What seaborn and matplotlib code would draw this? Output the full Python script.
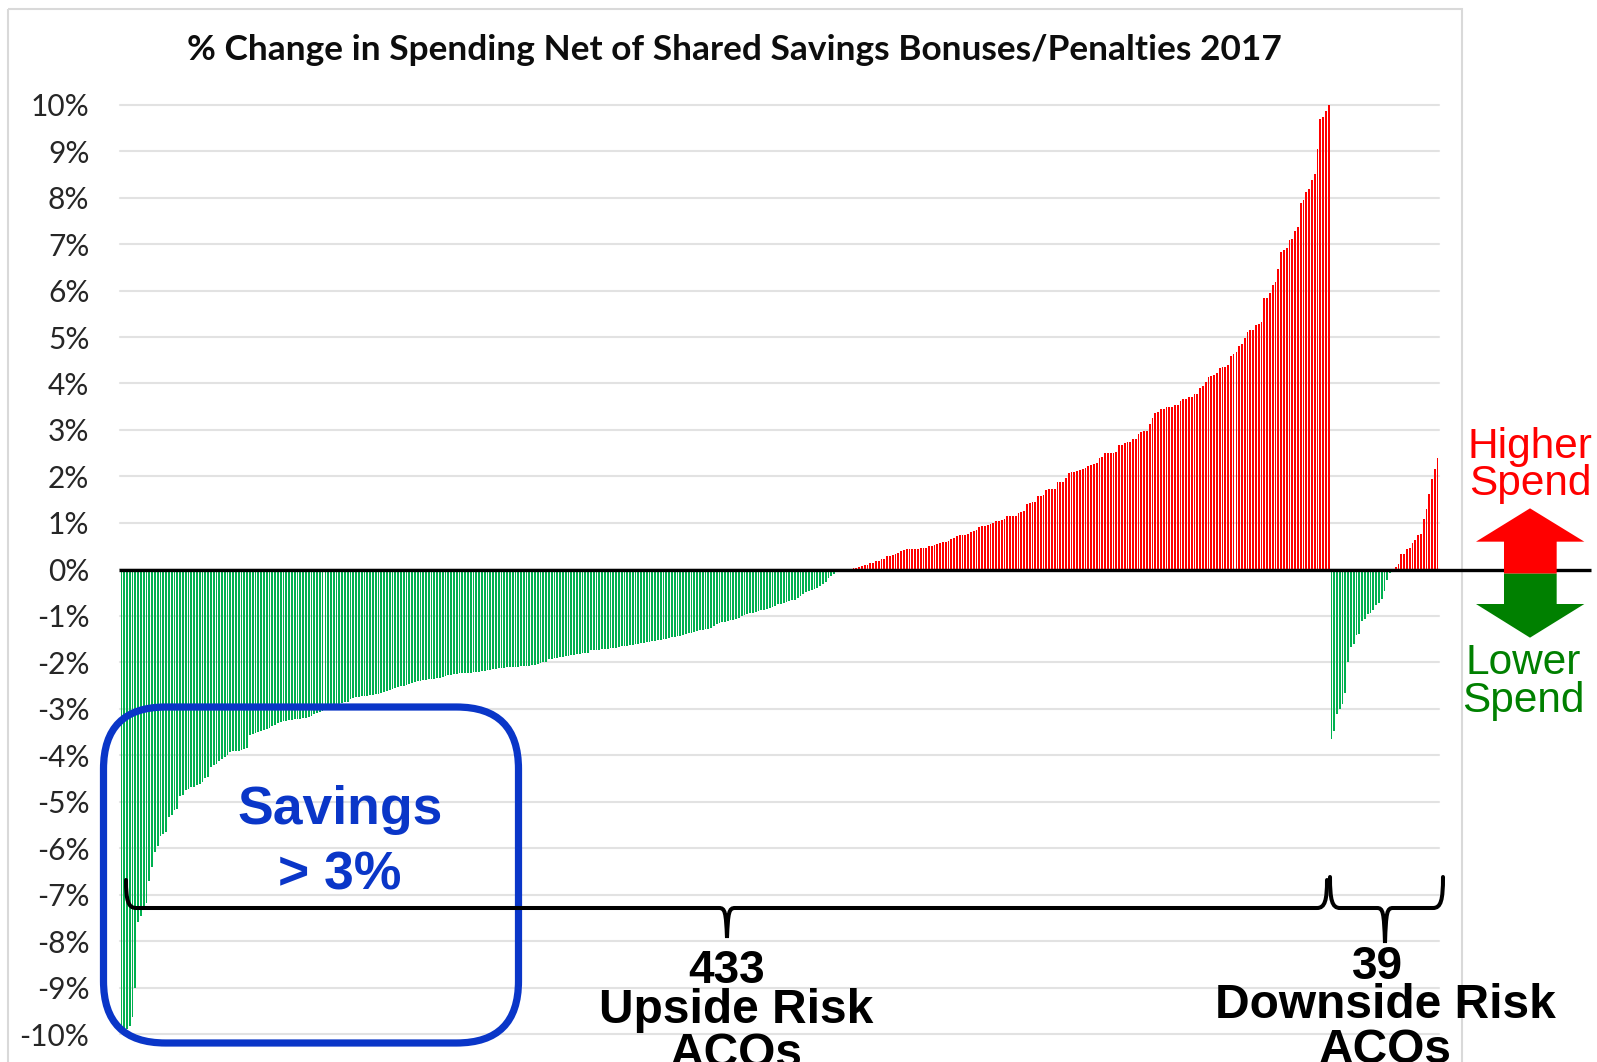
import numpy as np
import pandas as pd
import seaborn as sns
import matplotlib
matplotlib.use("Agg")
import matplotlib.pyplot as plt
from matplotlib.patches import FancyBboxPatch, PathPatch, Polygon, Rectangle
from matplotlib.path import Path

# Values: % change in spending per ACO
upside_change = [
    -10, -10, -9.9, -9.83, -9.63, -9.0, -7.59, -7.47, -7.25, -7.19,
    -6.7, -6.4, -6.08, -5.95, -5.74, -5.7, -5.66, -5.33, -5.29, -5.18,
    -5.15, -4.88, -4.86, -4.75, -4.72, -4.69, -4.68, -4.65, -4.62, -4.57,
    -4.5, -4.47, -4.25, -4.22, -4.19, -4.12, -4.08, -4.04, -4.0, -3.93,
    -3.92, -3.91, -3.9, -3.88, -3.86, -3.85, -3.57, -3.55, -3.52, -3.5,
    -3.47, -3.45, -3.43, -3.41, -3.38, -3.34, -3.3, -3.28, -3.27, -3.26,
    -3.25, -3.24, -3.23, -3.22, -3.21, -3.2, -3.19, -3.17, -3.15, -3.12,
    -3.09, -3.07, -3.05, -3.03, -3.01, -2.99, -2.97, -2.94, -2.91, -2.88,
    -2.86, -2.85, -2.8, -2.76, -2.75, -2.74, -2.73, -2.72, -2.72, -2.71,
    -2.7, -2.69, -2.68, -2.66, -2.64, -2.62, -2.6, -2.57, -2.56, -2.54,
    -2.52, -2.5, -2.48, -2.46, -2.44, -2.42, -2.41, -2.4, -2.39, -2.38,
    -2.37, -2.36, -2.35, -2.34, -2.33, -2.31, -2.3, -2.28, -2.27, -2.25,
    -2.25, -2.24, -2.24, -2.23, -2.23, -2.22, -2.21, -2.2, -2.2, -2.19,
    -2.18, -2.17, -2.16, -2.15, -2.14, -2.13, -2.12, -2.12, -2.11, -2.11,
    -2.1, -2.1, -2.1, -2.09, -2.08, -2.07, -2.07, -2.06, -2.05, -2.04,
    -2.02, -2.0, -1.99, -1.92, -1.92, -1.91, -1.9, -1.89, -1.88, -1.87,
    -1.86, -1.85, -1.84, -1.83, -1.82, -1.81, -1.8, -1.8, -1.74, -1.74,
    -1.73, -1.73, -1.72, -1.71, -1.71, -1.7, -1.7, -1.69, -1.67, -1.66,
    -1.65, -1.64, -1.63, -1.62, -1.61, -1.6, -1.59, -1.58, -1.57, -1.56,
    -1.55, -1.54, -1.53, -1.51, -1.5, -1.49, -1.48, -1.46, -1.45, -1.44,
    -1.43, -1.42, -1.4, -1.38, -1.36, -1.35, -1.33, -1.31, -1.3, -1.29,
    -1.28, -1.26, -1.22, -1.17, -1.15, -1.14, -1.13, -1.12, -1.1, -1.09,
    -1.07, -1.04, -1.01, -0.98, -0.97, -0.95, -0.93, -0.91, -0.9, -0.88,
    -0.87, -0.85, -0.83, -0.81, -0.78, -0.75, -0.74, -0.72, -0.7, -0.68,
    -0.67, -0.65, -0.62, -0.57, -0.52, -0.48, -0.46, -0.44, -0.42, -0.4,
    -0.36, -0.32, -0.27, -0.18, -0.15, -0.1, -0.06, 0.0, 0.0, 0.0,
    0.01, 0.01, 0.02, 0.03, 0.05, 0.08, 0.09, 0.1, 0.13, 0.14,
    0.18, 0.19, 0.22, 0.23, 0.29, 0.29, 0.3, 0.33, 0.36, 0.4,
    0.41, 0.43, 0.43, 0.43, 0.43, 0.43, 0.47, 0.47, 0.47, 0.5,
    0.5, 0.52, 0.54, 0.56, 0.59, 0.59, 0.61, 0.66, 0.68, 0.71,
    0.73, 0.74, 0.75, 0.77, 0.81, 0.82, 0.84, 0.92, 0.93, 0.94,
    0.96, 0.97, 0.99, 1.04, 1.05, 1.07, 1.08, 1.15, 1.15, 1.15,
    1.15, 1.22, 1.23, 1.25, 1.4, 1.43, 1.45, 1.46, 1.57, 1.58,
    1.59, 1.7, 1.72, 1.73, 1.74, 1.87, 1.88, 1.88, 1.97, 2.08,
    2.09, 2.1, 2.11, 2.13, 2.15, 2.18, 2.22, 2.24, 2.26, 2.28,
    2.39,
    2.41, 2.5, 2.5, 2.5, 2.5, 2.53, 2.67, 2.67, 2.71, 2.74,
    2.74, 2.81, 2.81, 2.91, 2.95, 2.98, 2.98, 3.12, 3.25, 3.36,
    3.39, 3.46, 3.46, 3.5, 3.5, 3.49, 3.53, 3.53, 3.63, 3.67,
    3.67, 3.7, 3.7, 3.77, 3.77, 3.91, 3.95, 4.04, 4.13, 4.16,
    4.18, 4.22, 4.33, 4.36, 4.36, 4.39, 4.6, 4.63, 4.67, 4.81,
    4.84, 4.98, 5.11, 5.15, 5.15, 5.25, 5.29, 5.32, 5.85, 5.85,
    5.94, 6.12, 6.19, 6.46, 6.84, 6.87, 6.91, 7.09, 7.12, 7.29,
    7.36, 7.88, 7.95, 8.12, 8.19, 8.39, 8.5, 9.05, 9.7, 9.74,
    9.87, 10.0,
]
downside_change = [
    -3.66, -3.47, -3.12, -3.0, -2.89, -2.67, -2.0, -1.67, -1.61, -1.41,
    -1.39, -1.11, -1.07, -0.97, -0.93, -0.88, -0.77, -0.73, -0.63, -0.46,
    -0.22, -0.08, -0.03,
    0.05, 0.11, 0.32, 0.32, 0.43, 0.45, 0.57, 0.63, 0.74, 0.77,
    1.08, 1.29, 1.63, 1.94, 2.15, 2.39,
]
y_ticks = list(range(10, -11, -1))
y_tick_labels = [f"{t}%" for t in y_ticks]
title = "% Change in Spending Net of Shared Savings Bonuses/Penalties 2017"

GREEN, RED, BLUE, DKGREEN = "#00b050", "#ff0000", "#0a36c8", "#008000"
W, H = 1597, 1062

sns.set_theme(style="white")
plt.rcParams["font.family"] = ["Lato", "DejaVu Sans"]

values = upside_change + downside_change
df = pd.DataFrame({"aco": np.arange(len(values)), "change": values})
df["direction"] = np.where(df["change"] > 0, "higher", "lower")

fig = plt.figure(figsize=(W / 100, H / 100), dpi=100, facecolor="white")
ax = fig.add_axes([120 / W, (H - 1034) / H, 1319 / W, (1034 - 104.7) / H])
sns.barplot(data=df, x="aco", y="change", hue="direction", native_scale=True,
            palette={"higher": RED, "lower": GREEN}, dodge=False, width=0.64,
            legend=False, linewidth=0, saturation=1, ax=ax, zorder=3)
ax.set_xlim(-0.5, len(values) - 0.5)
ax.set_ylim(-10, 10)
ax.set_yticks(y_ticks)
ax.set_yticklabels(y_tick_labels, fontsize=21.5, color="#262626")
ax.tick_params(axis="y", length=0, pad=22)
ax.set_xticks([])
ax.set_xlabel("")
ax.set_ylabel("")
sns.despine(ax=ax, left=True, bottom=True)
ax.grid(axis="y", color="#e2e2e2", linewidth=1.5, zorder=0)
ax.set_axisbelow(True)
for gl in ax.get_ygridlines():
    gl.set_clip_on(False)

# Overlay in pixel coordinates for the annotations
ov = fig.add_axes([0, 0, 1, 1], facecolor="none")
ov.set_xlim(0, W)
ov.set_ylim(H, 0)
ov.axis("off")

ov.add_patch(Rectangle((8, 9), 1454, 1100, fill=False, edgecolor="#d9d9d9", linewidth=1.5))
ov.plot([119, 1591], [570, 570], color="black", lw=2.4, solid_capstyle="butt", zorder=2)

ov.text(734, 50, title, ha="center", va="center", fontsize=25.4, fontweight="bold",
        color="#0d0d0d", family=["Lato", "DejaVu Sans"])

# Savings box
ov.add_patch(FancyBboxPatch((103.5, 707), 415, 336,
                            boxstyle="round,pad=0,rounding_size=62",
                            fill=False, edgecolor=BLUE, linewidth=5.2, zorder=4))
arial = ["Liberation Sans", "DejaVu Sans"]
ov.text(340, 824, "Savings", ha="center", va="baseline", color=BLUE, fontsize=38.5,
        fontweight="bold", family=arial, zorder=5)
ov.text(340, 889, "> 3%", ha="center", va="baseline", color=BLUE, fontsize=38.5,
        fontweight="bold", family=arial, zorder=5)

# Braces
C4, L, M = Path.CURVE4, Path.LINETO, Path.MOVETO
def brace(x0, tip, x1, ytop, ymid, ytip):
    pts = [(x0, ytop), (x0, ymid - 8), (x0 + 2, ymid), (x0 + 10, ymid),
           (tip - 8, ymid), (tip - 2, ymid), (tip - 1, ymid + 4), (tip, ytip),
           (tip + 1, ymid + 4), (tip + 2, ymid), (tip + 8, ymid),
           (x1 - 10, ymid), (x1 - 2, ymid), (x1, ymid - 8), (x1, ytop)]
    codes = [M, C4, C4, C4, L, C4, C4, C4, C4, C4, C4, L, C4, C4, C4]
    return PathPatch(Path(pts, codes), fill=False, edgecolor="black", linewidth=2.9,
                     capstyle="round", zorder=6)
ov.add_patch(brace(126, 727, 1327, 880, 908, 938))
ov.add_patch(brace(1330, 1385, 1443, 877, 908, 943))

for x, y, s, fs in [(727, 983, "433", 33), (736, 1023, "Upside Risk", 34.5), (736, 1067, "ACOs", 34.5),
                    (1377, 979, "39", 33), (1385, 1018, "Downside Risk", 34.5), (1385, 1063, "ACOs", 34.5)]:
    ov.text(x, y, s, ha="center", va="baseline", color="black", fontsize=fs,
            fontweight="bold", family=arial, zorder=7)

# Higher / lower arrows
zx = lambda z: 1320 + z / 3
zy = lambda z: 420 + z / 3
up = [(630, 265), (793, 365), (710, 365), (710, 461), (552, 461), (552, 365), (468, 365)]
down = [(552, 461), (710, 461), (710, 552), (793, 552), (630, 653), (468, 552), (552, 552)]
ov.add_patch(Polygon([(zx(a), zy(b)) for a, b in up], closed=True, facecolor=RED, edgecolor="none", zorder=5))
ov.add_patch(Polygon([(zx(a), zy(b)) for a, b in down], closed=True, facecolor=DKGREEN, edgecolor="none", zorder=5))
for x, y, s, c, fs in [(1530, 458, "Higher", RED, 30.5), (1530, 495, "Spend", RED, 30.5),
                       (1523, 674, "Lower", DKGREEN, 30.5), (1523, 712, "Spend", DKGREEN, 30.5)]:
    ov.text(x, y, s, ha="center", va="baseline", color=c, fontsize=fs, family=arial, zorder=7)

fig.savefig("out.png", dpi=100, facecolor="white")
